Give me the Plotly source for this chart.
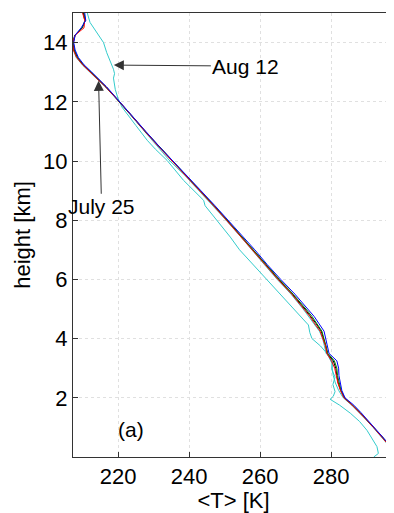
import plotly.graph_objects as go

# ---------------- data ----------------
height_km = [0.0, 0.25, 0.5, 0.75, 1.0, 1.25, 1.5, 1.75, 2.0, 2.25, 2.5, 2.75, 3.0, 3.25, 3.5,
             3.75, 4.0, 4.25, 4.5, 4.75, 5.0, 5.5, 6.0, 6.5, 7.0, 7.5, 8.0, 8.5, 9.0, 9.5,
             10.0, 10.5, 11.0, 11.5, 12.0, 12.5, 13.0, 13.25, 13.5, 13.75, 14.0, 14.25, 14.5, 14.75, 15.0]

T_blue = [298.6, 297.4, 295.8, 294.0, 292.1, 290.3, 288.4, 286.4, 283.9, 283.0, 282.5, 282.2, 282.1, 281.6, 279.4,
          278.9, 278.6, 278.0, 276.6, 275.2, 273.4, 269.8, 265.8, 262.0, 258.5, 254.8, 251.0, 247.2, 243.3, 239.3,
          235.4, 231.5, 227.8, 224.2, 220.6, 216.8, 212.6, 210.4, 208.8, 207.9, 207.5, 207.9, 209.6, 210.9, 210.6]

T_red = [298.0, 296.9, 295.5, 293.8, 291.9, 290.0, 288.0, 285.9, 283.6, 282.6, 281.9, 281.4, 281.0, 280.1, 278.8,
         278.4, 277.7, 276.9, 275.4, 274.0, 272.3, 268.9, 265.0, 261.4, 257.9, 254.2, 250.5, 246.8, 242.9, 239.0,
         235.1, 231.3, 227.6, 224.0, 220.4, 216.5, 212.2, 210.0, 208.3, 207.4, 207.2, 207.9, 210.4, 210.6, 210.0]

T_green = [298.3, 297.2, 295.7, 293.9, 292.0, 290.1, 288.2, 286.1, 283.8, 282.8, 282.2, 281.8, 281.6, 280.9, 279.1,
           278.6, 278.1, 277.4, 276.0, 274.6, 272.9, 269.3, 265.4, 261.7, 258.2, 254.5, 250.8, 247.0, 243.1, 239.2,
           235.3, 231.4, 227.7, 224.1, 220.5, 216.7, 212.4, 210.2, 208.6, 207.7, 207.4, 207.9, 209.8, 210.8, 210.4]

T_black = [298.2, 297.0, 295.6, 293.9, 292.0, 290.2, 288.1, 286.0, 283.7, 282.7, 282.0, 281.6, 281.3, 280.6, 278.9,
           278.5, 277.9, 277.2, 275.8, 274.3, 272.6, 269.1, 265.2, 261.6, 258.0, 254.4, 250.7, 246.9, 243.0, 239.1,
           235.2, 231.3, 227.6, 224.0, 220.4, 216.6, 212.3, 210.1, 208.5, 207.6, 207.3, 207.8, 209.9, 210.7, 210.2]

T_cyan_b = [297.9, 296.8, 295.4, 293.7, 291.8, 289.9, 287.9, 285.8, 283.4, 282.1, 281.2, 280.6, 280.3, 280.4, 278.6,
            278.2, 277.6, 276.7, 275.2, 273.8, 272.1, 268.7, 264.8, 261.2, 257.7, 254.1, 250.4, 246.6, 242.6, 238.9,
            234.6, 231.0, 227.3, 223.8, 220.3, 216.4, 212.1, 209.9, 208.2, 207.4, 207.2, 207.8, 210.0, 210.6, 210.1]

height_aug12 = [0.0, 0.12, 0.35, 0.6, 0.9, 1.2, 1.48, 1.75, 1.95, 2.05, 2.21, 2.45, 2.7, 2.95, 3.17, 3.5,
                3.75, 4.0, 4.2, 4.46, 5.0, 5.5, 6.0, 6.5, 7.0, 7.43, 8.11, 8.49, 8.67, 9.0, 9.35, 9.7,
                10.02, 10.4, 10.7, 11.2, 11.82, 12.1, 12.42, 12.8, 12.95, 13.1, 13.38, 13.66, 14.0, 14.34, 14.68, 15.05]
T_aug12 = [292.0, 293.3, 292.9, 291.6, 290.1, 288.0, 285.4, 282.4, 279.7, 280.6, 281.1, 280.5, 281.1, 280.2, 280.2, 278.8,
           277.0, 274.6, 274.0, 273.6, 269.5, 265.6, 261.8, 258.0, 254.2, 251.6, 246.9, 244.5, 244.1, 241.2, 238.4, 236.0,
           233.8, 230.5, 228.2, 225.0, 221.1, 220.0, 219.2, 218.7, 219.0, 218.7, 217.7, 216.8, 215.9, 214.0, 212.1, 211.2]

x_ticks = [220, 240, 260, 280]
y_ticks = [2, 4, 6, 8, 10, 12, 14]

# ---------------- figure ----------------
FONT = "Liberation Sans, Arial, Helvetica, sans-serif"
fig = go.Figure()

series = [
    (T_aug12, height_aug12, "#33cccc", "Aug 12"),
    (T_cyan_b, height_km, "#33cccc", "cyan"),
    (T_black, height_km, "#000000", "black"),
    (T_green, height_km, "#008000", "green"),
    (T_red, height_km, "#ff0000", "red"),
    (T_blue, height_km, "#0000ff", "blue"),
]
for xs, ys, col, name in series:
    fig.add_trace(go.Scatter(x=xs, y=ys, mode="lines", name=name,
                             line=dict(color=col, width=1), showlegend=False))

axis_common = dict(
    showline=True, linecolor="#333333", linewidth=1, mirror=True,
    ticks="inside", ticklen=5, tickcolor="#333333",
    showgrid=True, gridcolor="#e0e0e0", griddash="dot", gridwidth=1,
    zeroline=False, automargin=False,
    tickfont=dict(family=FONT, size=22, color="#000000"),
)

# the page body has an 8px margin, so the figure is sized to fit the 394x513 window
fig.update_layout(
    width=386, height=505,
    margin=dict(l=65, r=0, t=5, b=56),
    paper_bgcolor="white", plot_bgcolor="white",
    font=dict(family=FONT, color="#000000"),
    xaxis=dict(range=[207.3, 297.7], tickvals=x_ticks,
               title=dict(text="&lt;T&gt; [K]", font=dict(family=FONT, size=22), standoff=2),
               **axis_common),
    yaxis=dict(range=[0, 15], tickvals=y_ticks,
               title=dict(text="height [km]", font=dict(family=FONT, size=22), standoff=6),
               **axis_common),
)

fig.add_annotation(x=218.8, y=13.24, xref="x", yref="y", text="Aug 12",
                   showarrow=True, ax=132, ay=1, axref="pixel", ayref="pixel",
                   arrowhead=2, arrowsize=2, arrowwidth=1, arrowcolor="#333333", standoff=0,
                   font=dict(family=FONT, size=21, color="#000000"))
fig.add_annotation(x=214.5, y=12.71, xref="x", yref="y", text="July 25",
                   showarrow=True, ax=3, ay=126, axref="pixel", ayref="pixel",
                   arrowhead=2, arrowsize=2, arrowwidth=1, arrowcolor="#333333", standoff=0,
                   font=dict(family=FONT, size=21, color="#000000"))
fig.add_annotation(x=223.5, y=0.93, xref="x", yref="y", text="(a)", showarrow=False,
                   font=dict(family=FONT, size=21, color="#000000"))

fig.write_html("out.html")
